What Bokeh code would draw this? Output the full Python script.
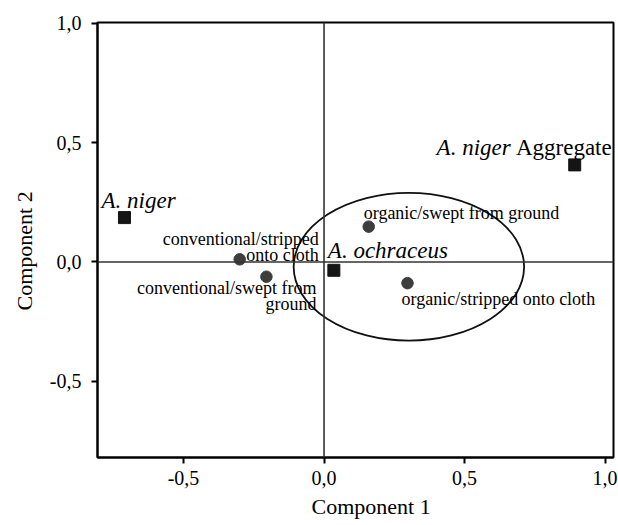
from bokeh.plotting import figure
from bokeh.models import ColumnDataSource, FixedTicker, CustomJSTickFormatter, Span, Range1d, Title
from bokeh.core.properties import value
from bokeh.embed import file_html
from bokeh.resources import INLINE

# ---- data ----
species_names = ["A. niger", "A. niger", "A. ochraceus"]
species_suffix = ["", "Aggregate", ""]
species_x = [-0.71, 0.892, 0.035]
species_y = [0.186, 0.407, -0.035]

treatment_labels = ["conventional/stripped\nonto cloth", "conventional/swept from\nground",
                    "organic/swept from ground", "organic/stripped onto cloth"]
treatment_x = [-0.30, -0.205, 0.159, 0.297]
treatment_y = [0.011, -0.062, 0.148, -0.089]

ellipse_x = [0.302]
ellipse_y = [-0.02]
ellipse_w = [0.82]
ellipse_h = [0.62]

x_ticks = [-0.5, 0.0, 0.5, 1.0]
y_ticks = [-0.5, 0.0, 0.5, 1.0]
x_title = "Component 1"
y_title = "Component 2"

SERIF = "Liberation Serif"

p = figure(width=618, height=525, output_backend="svg", toolbar_location=None,
           x_range=Range1d(-0.806, 1.03), y_range=Range1d(-0.82, 1.004),
           min_border_left=97, min_border_right=5, min_border_top=22, min_border_bottom=68)
p.background_fill_color = "white"
p.border_fill_color = "white"
p.outline_line_color = "black"
p.outline_line_width = 2
p.grid.visible = False

fmt = CustomJSTickFormatter(code="return tick.toFixed(1).replace('.', ',');")
for ax, ticks in ((p.xaxis[0], x_ticks), (p.yaxis[0], y_ticks)):
    ax.ticker = FixedTicker(ticks=ticks)
    ax.formatter = fmt
    ax.major_tick_in = 0
    ax.major_tick_out = 6
    ax.major_tick_line_width = 2
    ax.major_tick_line_color = "black"
    ax.minor_tick_line_color = None
    ax.axis_line_color = "black"
    ax.axis_line_width = 2
    ax.major_label_text_font = SERIF
    ax.major_label_text_font_size = "20px"
    ax.major_label_text_color = "black"

p.xaxis.major_label_standoff = 7
p.yaxis.major_label_standoff = 10
p.yaxis.major_label_orientation = "horizontal"

# axis titles
tx = Title(text=x_title, align="left", offset=214, text_font=SERIF, text_font_size="22px",
           text_font_style="normal", text_color="black")
ty = Title(text=y_title, align="left", offset=147, text_font=SERIF, text_font_size="22px",
           text_font_style="normal", text_color="black")
if "standoff" in tx.properties():
    tx.standoff = 8
    ty.standoff = 19
p.add_layout(tx, "below")
p.add_layout(ty, "left")

# zero lines
p.add_layout(Span(location=0, dimension="width", line_color="#333333", line_width=1.6))
p.add_layout(Span(location=0, dimension="height", line_color="#333333", line_width=1.6))

# ellipse
p.ellipse(x=ellipse_x, y=ellipse_y, width=ellipse_w, height=ellipse_h,
          fill_color=None, line_color="#111111", line_width=1.8)

# markers
p.scatter(x=treatment_x, y=treatment_y, marker="circle", size=11.5,
          fill_color="#3d3d3d", line_color="#3d3d3d")
p.scatter(x=species_x, y=species_y, marker="square", size=12,
          fill_color="#151515", line_color="#151515")

# ---- labels ----
sp_off = [("left", -23, -17), ("right", -64, -17), ("left", -6, -20)]
sp_src = ColumnDataSource(dict(x=species_x, y=species_y, t=species_names,
                               xo=[o[1] for o in sp_off], yo=[o[2] for o in sp_off],
                               al=[o[0] for o in sp_off]))
p.text(x="x", y="y", text="t", x_offset="xo", y_offset="yo", text_align="al",
       text_baseline="alphabetic", source=sp_src, text_font=value(SERIF),
       text_font_size="23px", text_font_style="italic", text_color="black")

suf_rows = [(species_x[i], species_y[i], s) for i, s in enumerate(species_suffix) if s]
p.text(x=[r[0] for r in suf_rows], y=[r[1] for r in suf_rows], text=[r[2] for r in suf_rows],
       x_offset=37, y_offset=-17, text_align="right", text_baseline="alphabetic",
       text_font=value(SERIF), text_font_size="23px", text_color="black")

tr_off = [("right", 79, -20), ("right", 50, 11), ("left", -5, -14), ("left", -6, 16)]
line_h = 16
rows = dict(x=[], y=[], t=[], xo=[], yo=[], al=[])
for i, lab in enumerate(treatment_labels):
    al, xo, yo = tr_off[i]
    for k, line in enumerate(lab.split("\n")):
        rows["x"].append(treatment_x[i]); rows["y"].append(treatment_y[i])
        rows["t"].append(line); rows["xo"].append(xo); rows["yo"].append(yo + k * line_h)
        rows["al"].append(al)
p.text(x="x", y="y", text="t", x_offset="xo", y_offset="yo", text_align="al",
       text_baseline="alphabetic", source=ColumnDataSource(rows), text_font=value(SERIF),
       text_font_size="18px", text_color="black")

open("out.html", "w").write(file_html(p, INLINE))
